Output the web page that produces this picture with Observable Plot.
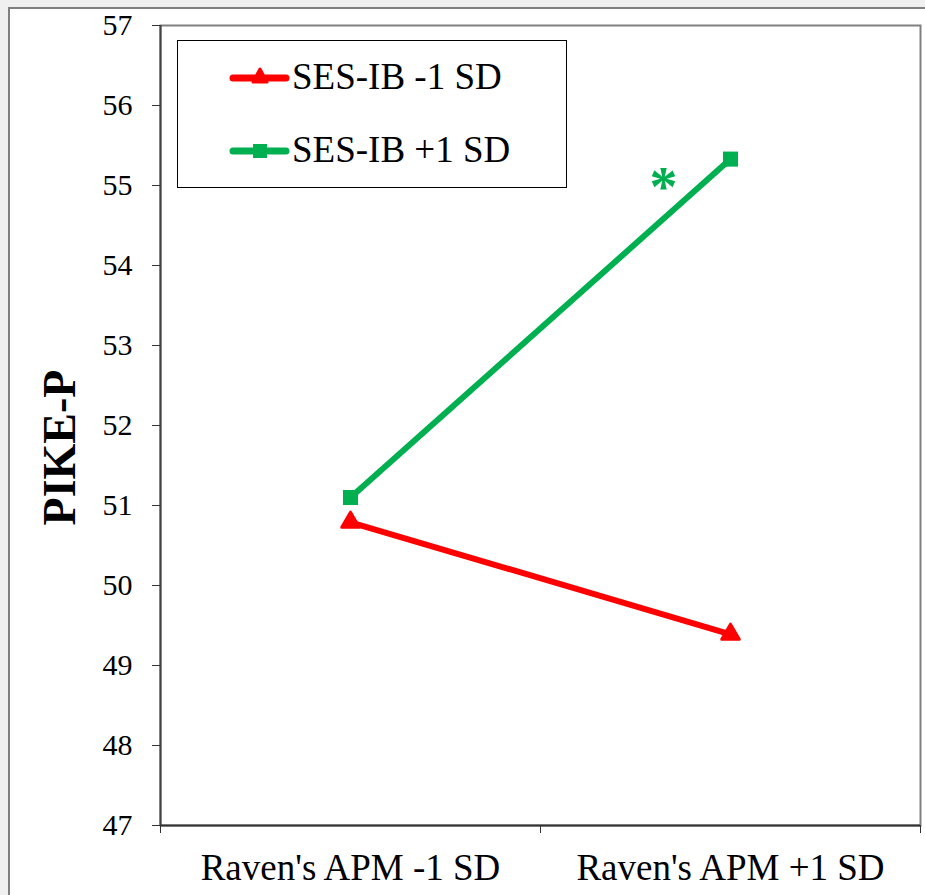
<!DOCTYPE html>
<html>
<head>
<meta charset="utf-8">
<script src="https://cdn.jsdelivr.net/npm/d3@7"></script>
<script src="https://cdn.jsdelivr.net/npm/@observablehq/plot@0.6"></script>
<style>
  html, body { margin: 0; padding: 0; background: #f0f0f0; width: 925px; height: 895px; overflow: hidden; }
  #sheet { position: absolute; left: 8px; top: 7px; width: 1000px; height: 1000px; background: #fff; border: 2px solid #808080; }
  #chart { position: absolute; left: 0; top: 0; }
  #legend { position: absolute; left: 177px; top: 40px; width: 388px; height: 146px; border: 1.5px solid #000; background: #fff;
            font-family: "Liberation Serif", "DejaVu Serif", serif; font-size: 37px; color: #000; }
  .item { position: absolute; left: 0; height: 40px; }
  .item svg { position: absolute; left: 0; top: 0; }
  .item span { position: absolute; left: 114px; white-space: nowrap; line-height: 1; }
</style>
</head>
<body>
<div id="sheet"></div>
<div id="chart"></div>
<div id="legend"></div>
<script>
const categories = ["Raven's APM -1 SD", "Raven's APM +1 SD"];
const seriesNames = ["SES-IB -1 SD", "SES-IB +1 SD"];
const seriesColors = ["#ff0000", "#00b050"];
const lowValues = [50.79, 49.39];
const highValues = [51.1, 55.33];
const yTicks = [47, 48, 49, 50, 51, 52, 53, 54, 55, 56, 57];
const significanceMark = "*";

const rows = [];
categories.forEach((c, i) => {
  rows.push({series: seriesNames[0], xi: i + 0.5, y: lowValues[i]});
  rows.push({series: seriesNames[1], xi: i + 0.5, y: highValues[i]});
});
const catLabel = v => categories[Math.round(v - 0.5)] ?? "";
const serif = "Liberation Serif, DejaVu Serif, serif";

const chart = Plot.plot({
  width: 925,
  height: 895,
  marginLeft: 160,
  marginRight: 5,
  marginTop: 25,
  marginBottom: 70,
  style: {fontFamily: serif, background: "transparent", color: "#000"},
  x: {type: "linear", domain: [0, categories.length], axis: null},
  y: {domain: [47, 57], axis: null},
  color: {domain: seriesNames, range: seriesColors},
  marks: [
    Plot.frame({stroke: "#808080", strokeWidth: 2}),
    Plot.ruleX([0], {stroke: "#444", strokeWidth: 2}),
    Plot.ruleY([47], {stroke: "#333", strokeWidth: 2}),
    Plot.axisY({ticks: yTicks, tickSize: 8, tickPadding: 20, fontSize: 30, label: null, stroke: "#333", fontFamily: serif}),
    Plot.axisX({ticks: d3.range(0, categories.length + 1), tickSize: 8, tickFormat: () => "", label: null, stroke: "#333"}),
    Plot.axisX({ticks: categories.map((c, i) => i + 0.5), tickSize: 0, tickPadding: 28, tickFormat: catLabel, fontSize: 37, label: null, fontFamily: serif}),
    Plot.text(["PIKE-P"], {frameAnchor: "left", textAnchor: "middle", dx: -100, dy: 22, rotate: -90, fontSize: 46, fontWeight: "bold", fill: "#000", fontFamily: serif}),
    Plot.line(rows, {x: "xi", y: "y", z: "series", stroke: "series", strokeWidth: 6, strokeLinecap: "round"}),
    Plot.dot(rows.filter(d => d.series === seriesNames[0]), {x: "xi", y: "y", symbol: "triangle", r: 6.5, fill: seriesColors[0], stroke: seriesColors[0], strokeWidth: 3, strokeLinejoin: "round"}),
    Plot.dot(rows.filter(d => d.series === seriesNames[1]), {x: "xi", y: "y", symbol: "square", r: 8.5, fill: seriesColors[1]}),
    Plot.text([{xi: 1.5, y: 55}], {x: "xi", y: "y", text: () => significanceMark, dx: -67, dy: 3, fontSize: 56, fontWeight: "bold", fill: seriesColors[1], fontFamily: serif})
  ]
});
document.getElementById("chart").appendChild(chart);

// Legend
const legend = document.getElementById("legend");
const tops = [17, 90];
seriesNames.forEach((name, i) => {
  const item = document.createElement("div");
  item.className = "item";
  item.style.top = tops[i] + "px";
  const marker = i === 0
    ? `<polygon points="82,11 89,24 75,24" fill="${seriesColors[0]}" stroke="${seriesColors[0]}" stroke-width="3" stroke-linejoin="round"/>`
    : `<rect x="75" y="13" width="14" height="14" fill="${seriesColors[1]}"/>`;
  item.innerHTML = `<svg width="115" height="40"><line x1="55" y1="20" x2="108" y2="20" stroke="${seriesColors[i]}" stroke-width="7" stroke-linecap="round"/>${marker}</svg><span style="top:0px">${name}</span>`;
  legend.appendChild(item);
});
</script>
</body>
</html>
